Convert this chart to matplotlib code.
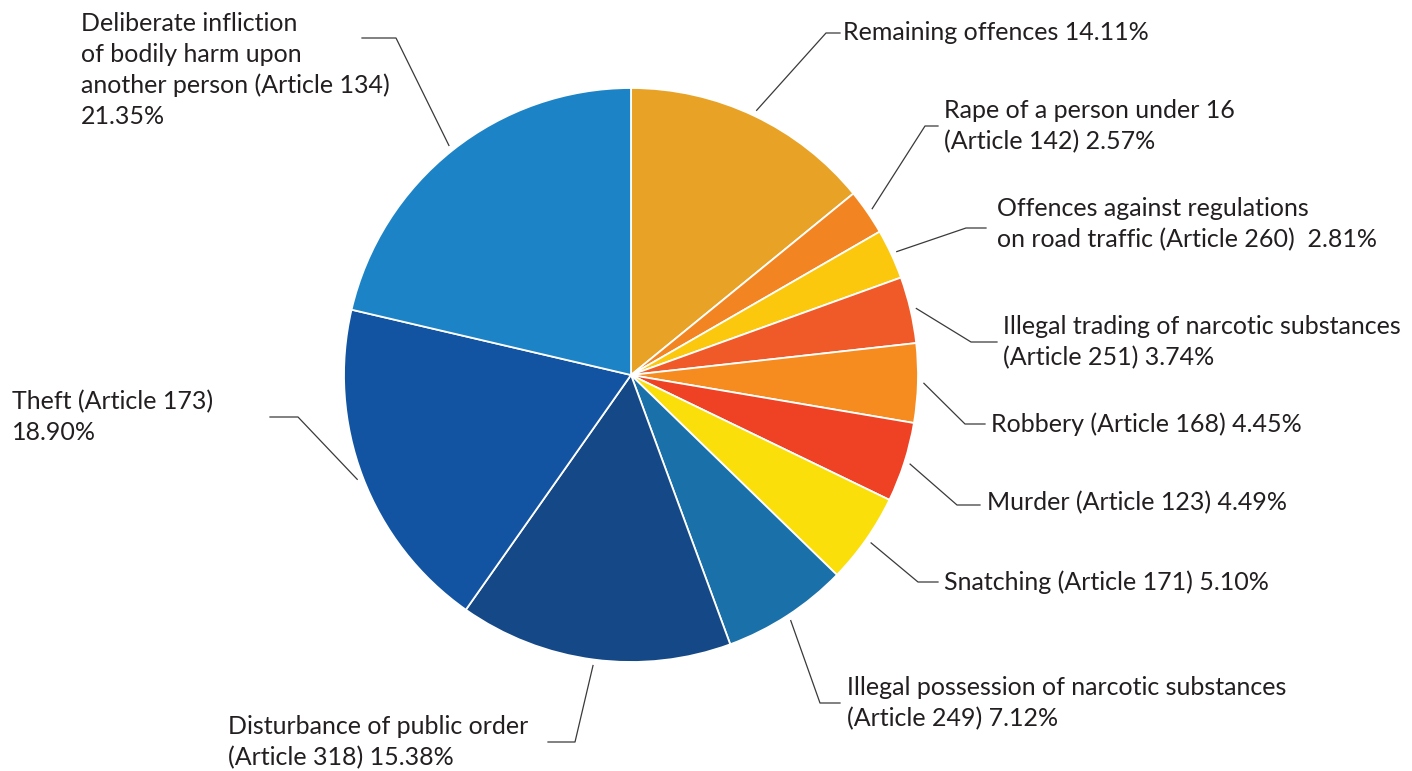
import matplotlib.pyplot as plt
import numpy as np

# offence categories, clockwise from 12 o'clock
names = [
    "Remaining offences ",
    "Rape of a person under 16\n(Article 142) ",
    "Offences against regulations\non road traffic (Article 260)  ",
    "Illegal trading of narcotic substances\n(Article 251) ",
    "Robbery (Article 168) ",
    "Murder (Article 123) ",
    "Snatching (Article 171) ",
    "Illegal possession of narcotic substances\n(Article 249) ",
    "Disturbance of public order\n(Article 318) ",
    "Theft (Article 173)\n",
    "Deliberate infliction\nof bodily harm upon\nanother person (Article 134)\n",
]
shares = [14.11, 2.57, 2.81, 3.74, 4.45, 4.49, 5.10, 7.12, 15.38, 18.90, 21.35]
colors = ['#E8A326', '#F28522', '#FBC80E', '#F05A28', '#F68B1F', '#EF4123',
          '#FADF0A', '#1A70A8', '#154886', '#1254A2', '#1C84C6']

W, H = 1412, 771
cx, cy, R = 631, 375, 287

# leader layout in pixels from top-left: elbow x, elbow y, stroke end x, text x, text y
callouts = [
    (826, 33, 840, 843, 33),
    (925, 126, 938, 944, 126),
    (966, 228, 986, 997, 224),
    (971, 342, 997, 1003, 342),
    (965, 424, 985, 991, 424),
    (957, 505, 980, 987, 503),
    (918, 582, 938, 944, 582),
    (820, 703, 840, 847, 703),
    (575, 742, 548, 228, 742),
    (298, 417, 270, 12, 417),
    (396, 38, 362, 81, 70),
]

fig = plt.figure(figsize=(14.12, 7.71), dpi=100)
ax = fig.add_axes([0, 0, 1, 1])
wedges, _ = ax.pie(shares, colors=colors, startangle=90, counterclock=False,
                   radius=R, center=(cx, H - cy),
                   wedgeprops=dict(edgecolor='white', linewidth=1.3))
ax.set_xlim(0, W)
ax.set_ylim(0, H)
ax.set_aspect('equal')
ax.axis('off')

for w, name, s, c in zip(wedges, names, shares, callouts):
    mid = np.deg2rad((w.theta1 + w.theta2) / 2)
    ax0 = cx + (R + 6) * np.cos(mid)
    ay0 = (H - cy) + (R + 6) * np.sin(mid)
    ex, ey, endx, tx, ty = c
    ax.plot([ax0, ex, endx], [ay0, H - ey, H - ey], color='#3a3a3a', lw=0.9)
    ax.text(tx, H - ty, name + f"{s:.2f}%", ha='left', va='center',
            fontsize=18, family='Lato', color='#231f20', linespacing=1.4)

plt.savefig('out.png', dpi=100)
